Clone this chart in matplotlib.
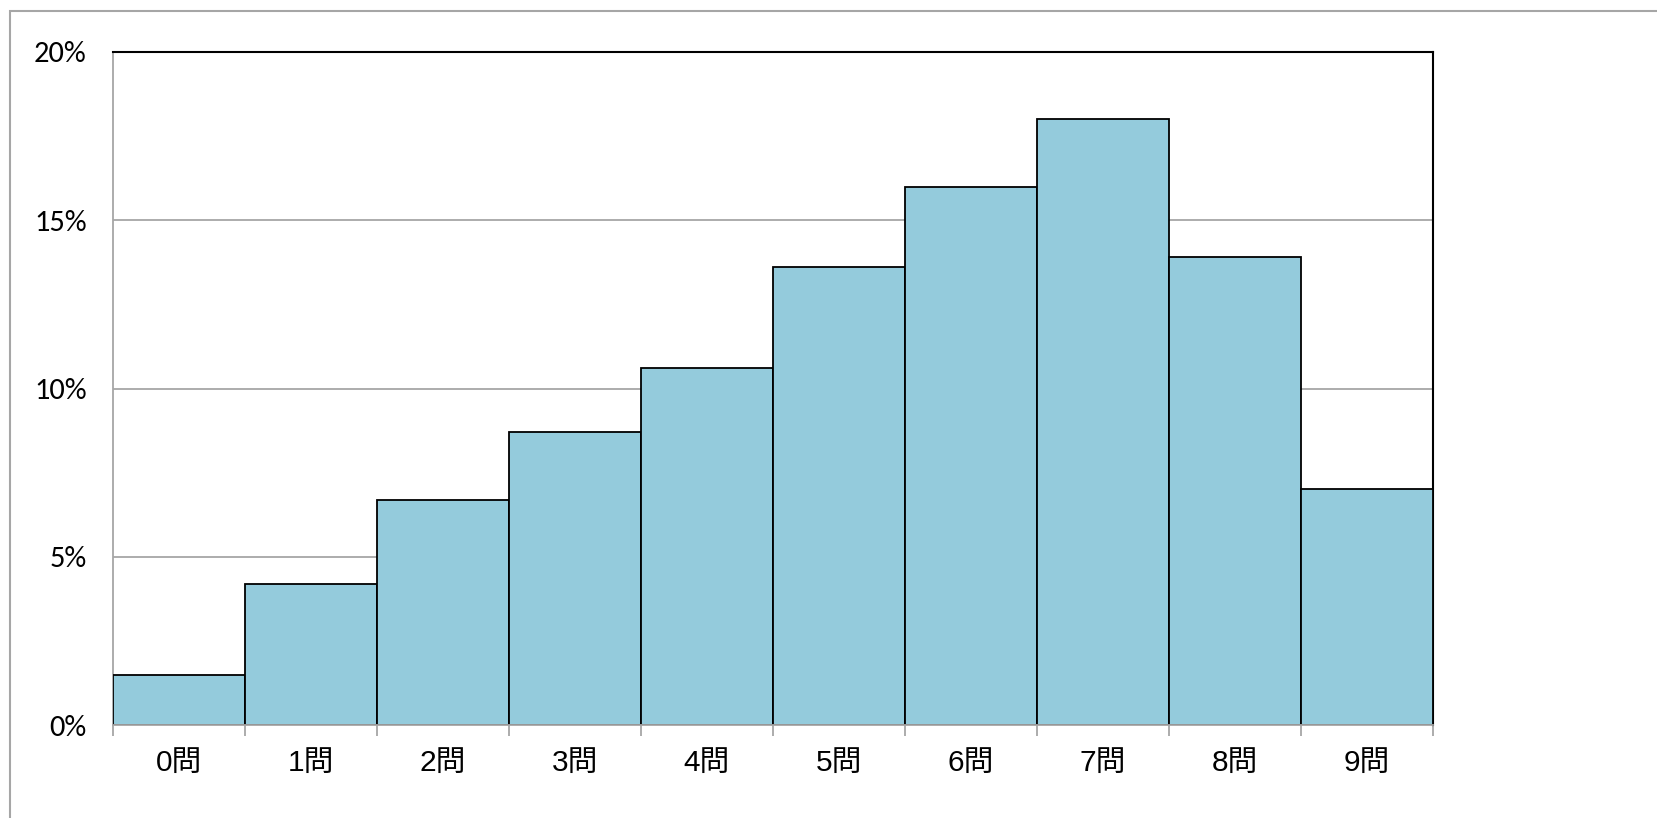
import matplotlib.pyplot as plt
from matplotlib.patches import Rectangle
import numpy as np

categories = ["0問", "1問", "2問", "3問", "4問", "5問", "6問", "7問", "8問", "9問"]
shares = [1.5, 4.2, 6.7, 8.7, 10.6, 13.6, 16.0, 18.0, 13.9, 7.0]
yticks = [0, 5, 10, 15, 20]
ylabels = ["0%", "5%", "10%", "15%", "20%"]

W, H = 1657, 818
fig = plt.figure(figsize=(W / 100, H / 100), dpi=100)

# outer gray frame (only left and top visible)
fig.patches.append(Rectangle((10 / W, -0.1), 1.2, (H - 11) / H + 0.1,
                             transform=fig.transFigure, fill=False,
                             edgecolor="#a6a6a6", linewidth=1.5))

ax = fig.add_axes([113 / W, 93 / H, 1320 / W, 673 / H])

x = np.arange(len(categories))
ax.bar(x, shares, width=1.0, color="#94cbdc", edgecolor="black", linewidth=1.3, zorder=3)

ax.set_xlim(-0.5, len(categories) - 0.5)
ax.set_ylim(0, 20)

ax.set_yticks(yticks)
ax.set_yticklabels(ylabels, family=["Carlito", "Liberation Sans", "DejaVu Sans"], fontsize=22)
ax.tick_params(axis="y", length=0, pad=19)
ax.grid(axis="y", color="#a6a6a6", linewidth=1.3, zorder=0)

ax.set_xticks(x)
ax.set_xticklabels(categories, family=["Liberation Sans", "Noto Sans CJK JP", "DejaVu Sans"],
                   fontsize=21.5)
ax.tick_params(axis="x", which="major", length=0, pad=17)
ax.set_xticks(np.arange(len(categories) + 1) - 0.5, minor=True)
ax.tick_params(axis="x", which="minor", length=8, width=1.3, color="#a6a6a6")

for side in ["left", "bottom"]:
    ax.spines[side].set_color("#a6a6a6")
    ax.spines[side].set_linewidth(1.3)
ax.spines["bottom"].set_zorder(4)
ax.spines["top"].set_color("black")
ax.spines["top"].set_linewidth(1.5)
ax.spines["right"].set_color("black")
ax.spines["right"].set_linewidth(1.5)

fig.savefig("out.png", dpi=100)
